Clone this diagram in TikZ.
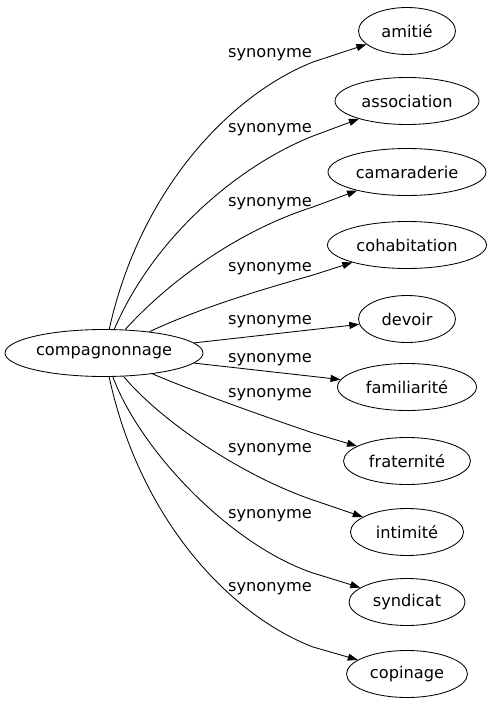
\documentclass[tikz,border=0pt]{standalone}
\usepackage{fontspec}
\setmainfont{DejaVu Sans}
\usetikzlibrary{arrows.meta,shapes.geometric}

\tikzset{
	mot/.style={draw, ellipse, line width=0.85pt, minimum height=47pt, inner sep=0pt, font=\fontsize{16.2}{18}\selectfont},
	syn/.style={inner sep=0pt, font=\fontsize{16.2}{18}\selectfont},
	lien/.style={line width=0.85pt, -{Triangle[length=10pt,width=7pt]}}
}

\begin{document}
\begin{tikzpicture}[x=1pt,y=-1pt]
	\useasboundingbox (0,0) rectangle (490,707);

	\node[mot, minimum width=198pt] (comp) at (104,353) {compagnonnage};

	\node[mot, minimum width=97pt] (amitie) at (407,31) {amitié};
	\node[mot, minimum width=144pt] (assoc) at (407,101) {association};
	\node[mot, minimum width=158pt] (camar) at (407,172) {camaraderie};
	\node[mot, minimum width=159pt] (cohab) at (407,245) {cohabitation};
	\node[mot, minimum width=97pt] (devoir) at (407,319) {devoir};
	\node[mot, minimum width=139pt] (famil) at (407,387) {familiarité};
	\node[mot, minimum width=127pt] (frat) at (407,461) {fraternité};
	\node[mot, minimum width=113pt] (intim) at (407,532) {intimité};
	\node[mot, minimum width=116pt] (synd) at (407,602) {syndicat};
	\node[mot, minimum width=121pt] (copin) at (407,674) {copinage};

	\node[syn] (s1) at (270,55) {synonyme};
	\node[syn] (s2) at (270,130) {synonyme};
	\node[syn] (s3) at (270,204) {synonyme};
	\node[syn] (s4) at (270,269) {synonyme};
	\node[syn] (s5) at (270,322) {synonyme};
	\node[syn] (s6) at (270,360) {synonyme};
	\node[syn] (s7) at (270,395) {synonyme};
	\node[syn] (s8) at (270,450) {synonyme};
	\node[syn] (s9) at (270,516) {synonyme};
	\node[syn] (s10) at (270,589) {synonyme};

	\draw[lien] (comp) .. controls (140,190) and (230,95) .. (313,62) -- (amitie);
	\draw[lien] (comp) .. controls (155,235) and (240,165) .. (313,136) -- (assoc);
	\draw[lien] (comp) .. controls (170,280) and (240,230) .. (313,207) -- (camar);
	\draw[lien] (comp) .. controls (200,308) and (260,290) .. (313,275) -- (cohab);
	\draw[lien] (comp) -- (devoir);
	\draw[lien] (comp) -- (famil);
	\draw[lien] (comp) .. controls (190,390) and (260,415) .. (313,433) -- (frat);
	\draw[lien] (comp) .. controls (160,420) and (240,475) .. (313,500) -- (intim);
	\draw[lien] (comp) .. controls (140,450) and (230,545) .. (313,573) -- (synd);
	\draw[lien] (comp) .. controls (140,520) and (230,615) .. (313,647) -- (copin);
\end{tikzpicture}
\end{document}
